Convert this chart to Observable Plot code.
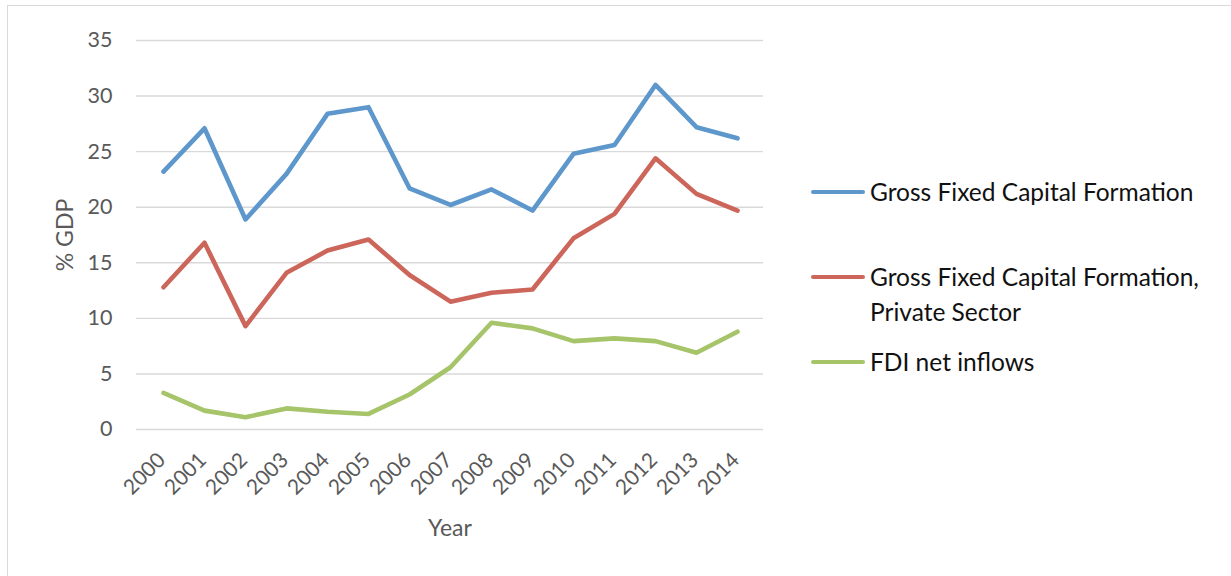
<!DOCTYPE html>
<html>
<head>
<meta charset="utf-8">
<script src="https://cdn.jsdelivr.net/npm/d3@7"></script>
<script src="https://cdn.jsdelivr.net/npm/@observablehq/plot@0.6"></script>
<style>
  body { margin: 0; background: #fff; }
  #wrap { position: relative; width: 1231px; height: 576px; overflow: hidden; font-family: Lato, "Open Sans", sans-serif; }
  #frame { position: absolute; left: 7px; top: 5px; width: 1240px; height: 600px; border: 1.5px solid #d9d9d9; box-sizing: border-box; }
  #chart { position: absolute; left: 0; top: 0; }
  .leg { position: absolute; left: 811px; font-size: 24.5px; color: #111; line-height: 35px; }
  .leg .sw { position: absolute; left: 0; top: 15.5px; width: 54px; height: 4.5px; border-radius: 3px; }
  .leg .tx { position: absolute; left: 59px; top: 0; white-space: nowrap; }
</style>
</head>
<body>
<div id="wrap">
  <div id="frame"></div>
  <div id="chart"></div>
  <div id="legend"></div>
</div>
<script>
const years = ["2000","2001","2002","2003","2004","2005","2006","2007","2008","2009","2010","2011","2012","2013","2014"];
const gfcf =        [23.2, 27.1, 18.9, 23.0, 28.4, 29.0, 21.7, 20.2, 21.6, 19.7, 24.8, 25.6, 31.0, 27.2, 26.2];
const gfcfPrivate = [12.8, 16.8,  9.3, 14.1, 16.1, 17.1, 13.9, 11.5, 12.3, 12.6, 17.2, 19.4, 24.4, 21.2, 19.7];
const fdi =         [ 3.3,  1.7,  1.1,  1.9,  1.6,  1.4,  3.15, 5.6,  9.6,  9.1,  7.95, 8.2,  7.95, 6.9,  8.8];
const seriesNames = ["Gross Fixed Capital Formation", "Gross Fixed Capital Formation,\nPrivate Sector", "FDI net inflows"];
const seriesColors = ["#5E97CB", "#CC665B", "#A6C46A"];
const yTicks = [0, 5, 10, 15, 20, 25, 30, 35];

const seriesValues = [gfcf, gfcfPrivate, fdi];
const rows = [];
seriesValues.forEach((vals, s) => vals.forEach((v, i) => rows.push({year: years[i], value: v, series: seriesNames[s]})));

const chart = Plot.plot({
  width: 1231,
  height: 576,
  marginLeft: 136,
  marginRight: 468,
  marginTop: 40,
  marginBottom: 147,
  style: {fontFamily: "Lato, 'Open Sans', sans-serif", background: "transparent"},
  x: {type: "point", domain: years, padding: 0.5, axis: null},
  y: {domain: [0, 35], axis: null},
  color: {domain: seriesNames, range: seriesColors},
  marks: [
    Plot.ruleY(yTicks, {stroke: "#d9d9d9", strokeWidth: 1.4}),
    Plot.axisY({ticks: yTicks, tickSize: 0, tickPadding: 24, fontSize: 21.5, color: "#595959", label: null}),
    Plot.text(years, {x: d => d, frameAnchor: "bottom", dy: 32, dx: 3, rotate: -45, textAnchor: "end", lineAnchor: "bottom", fontSize: 21, fill: "#595959"}),
    Plot.text(["% GDP"], {frameAnchor: "left", dx: -71, rotate: -90, textAnchor: "middle", lineAnchor: "middle", fontSize: 23, fill: "#595959"}),
    Plot.text(["Year"], {frameAnchor: "bottom", dy: 99, textAnchor: "middle", lineAnchor: "middle", fontSize: 23, fill: "#595959"}),
    Plot.line(rows, {x: "year", y: "value", z: "series", stroke: "series", strokeWidth: 4.6, strokeLinejoin: "round", strokeLinecap: "round"})
  ]
});
document.getElementById("chart").appendChild(chart);

const legendTops = [174, 259, 344];
const legend = document.getElementById("legend");
seriesNames.forEach((name, i) => {
  const item = document.createElement("div");
  item.className = "leg";
  item.style.top = legendTops[i] + "px";
  const sw = document.createElement("div");
  sw.className = "sw";
  sw.style.background = seriesColors[i];
  const tx = document.createElement("div");
  tx.className = "tx";
  tx.innerHTML = name.replace("\n", "<br>");
  item.appendChild(sw);
  item.appendChild(tx);
  legend.appendChild(item);
});
</script>
</body>
</html>
